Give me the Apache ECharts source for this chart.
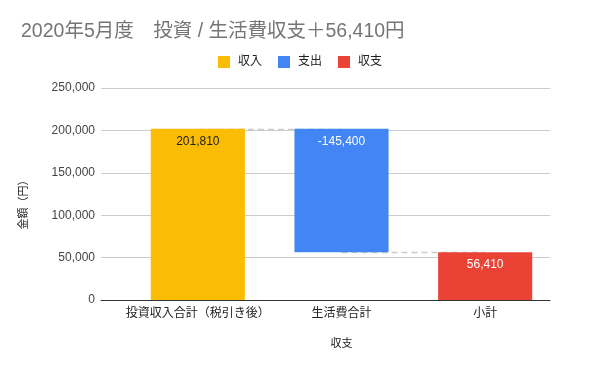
<!DOCTYPE html>
<html><head><meta charset="utf-8">
<script src="https://cdn.jsdelivr.net/npm/echarts@6/dist/echarts.min.js"></script>
<style>html,body{margin:0;padding:0;background:#fff}#c{width:600px;height:371px}</style>
</head><body><div id="c"></div>
<script>
const titleText = '2020年5月度　投資 / 生活費収支＋56,410円';
const categories = ['投資収入合計（税引き後）', '生活費合計', '小計'];
const seriesNames = ['収入', '支出', '収支'];
const incomeValues = [201810, '-', '-'];
const expenseValues = ['-', 145400, '-'];
const balanceValues = ['-', '-', 56410];
const yTicks = [0, 50000, 100000, 150000, 200000, 250000];

const remain = incomeValues[0] - expenseValues[1];
const baseValues = ['-', remain, '-'];

const FONT = '"Liberation Sans", Arial, "Noto Sans CJK JP", sans-serif';
const fmt = v => v.toLocaleString('en-US');
const yMin = yTicks[0], yMax = yTicks[yTicks.length - 1], yStep = yTicks[1] - yTicks[0];

const chart = echarts.init(document.getElementById('c'), null, {renderer: 'canvas'});
chart.setOption({
  animation: false,
  textStyle: {fontFamily: FONT},
  title: {
    text: titleText, left: 16, top: 17,
    textStyle: {fontSize: 19.5, fontWeight: 'normal', color: '#757575', fontFamily: FONT}
  },
  legend: {
    data: seriesNames, top: 51, left: 'center',
    itemWidth: 12, itemHeight: 12, itemGap: 16, icon: 'rect',
    textStyle: {fontSize: 12, color: '#222', fontFamily: FONT, padding: [0, 0, 0, 3]}
  },
  grid: [
    {left: 101, right: 50, top: 88, bottom: 71, containLabel: false},
    {left: 126, right: 43, top: 88, bottom: 71, containLabel: false}
  ],
  xAxis: [
    {
      gridIndex: 0, type: 'value', min: 0, max: 1,
      axisLine: {show: true, onZero: false, lineStyle: {color: '#333', width: 1}},
      axisTick: {show: false}, axisLabel: {show: false}, splitLine: {show: false}
    },
    {
      gridIndex: 1, type: 'category', data: categories,
      name: '収支', nameLocation: 'middle', nameGap: 38,
      nameTextStyle: {fontSize: 11, color: '#222', fontFamily: FONT},
      axisLine: {show: false},
      axisTick: {show: false},
      axisLabel: {fontSize: 12, color: '#222', margin: 8, fontFamily: FONT, interval: 0}
    }
  ],
  yAxis: [
    {
      gridIndex: 0, type: 'value', min: yMin, max: yMax, interval: yStep,
      name: '金額（円）', nameLocation: 'middle', nameGap: 72, nameRotate: 90,
      nameTextStyle: {fontSize: 11, color: '#222', fontFamily: FONT, padding: [0, 16, 0, 0]},
      axisLine: {show: false}, axisTick: {show: false},
      axisLabel: {fontSize: 12, color: '#444', margin: 6, formatter: v => fmt(v), fontFamily: FONT},
      splitLine: {lineStyle: {color: '#ccc', width: 1}}
    },
    {
      gridIndex: 1, type: 'value', min: yMin, max: yMax, interval: yStep,
      axisLine: {show: false}, axisTick: {show: false},
      axisLabel: {show: false}, splitLine: {show: false}
    }
  ],
  series: [
    {
      name: 'base', type: 'bar', stack: 'w', data: baseValues, barWidth: '65.5%',
      xAxisIndex: 1, yAxisIndex: 1,
      itemStyle: {color: 'transparent'}, silent: true, legendHoverLink: false,
      markLine: {
        silent: true, symbol: 'none', z: 1, animation: false,
        label: {show: false},
        lineStyle: {color: '#ccc', type: [6, 4], width: 1.4},
        data: [
          [{coord: [0, incomeValues[0]]}, {coord: [1, incomeValues[0]]}],
          [{coord: [1, remain]}, {coord: [2, remain]}]
        ]
      }
    },
    {
      name: seriesNames[0], type: 'bar', stack: 'w', data: incomeValues, barWidth: '65.5%',
      xAxisIndex: 1, yAxisIndex: 1,
      itemStyle: {color: '#fbbc04'},
      label: {show: true, position: 'insideTop', distance: 7, color: '#222', fontSize: 12, fontFamily: FONT,
        formatter: p => fmt(p.value)}
    },
    {
      name: seriesNames[1], type: 'bar', stack: 'w', data: expenseValues, barWidth: '65.5%',
      xAxisIndex: 1, yAxisIndex: 1,
      itemStyle: {color: '#4285f4'},
      label: {show: true, position: 'insideTop', distance: 7, color: '#fff', fontSize: 12, fontFamily: FONT,
        formatter: p => '-' + fmt(p.value)}
    },
    {
      name: seriesNames[2], type: 'bar', stack: 'w', data: balanceValues, barWidth: '65.5%',
      xAxisIndex: 1, yAxisIndex: 1,
      itemStyle: {color: '#ea4335'},
      label: {show: true, position: 'insideTop', distance: 7, color: '#fff', fontSize: 12, fontFamily: FONT,
        formatter: p => fmt(p.value)}
    }
  ]
});
</script></body></html>
